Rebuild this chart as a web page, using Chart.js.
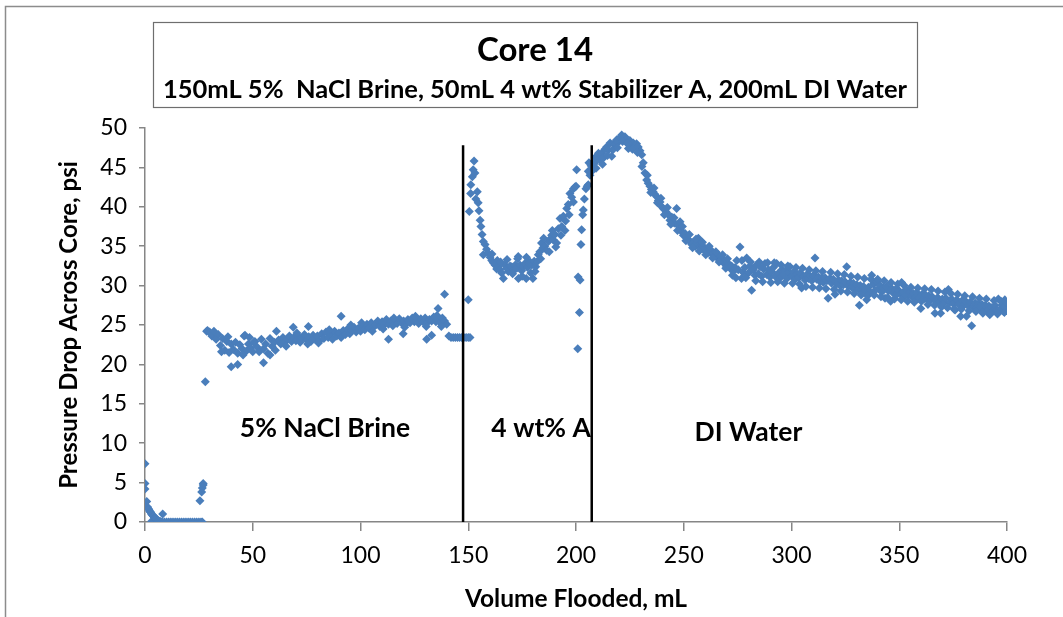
<!DOCTYPE html>
<html>
<head>
<meta charset="utf-8">
<script src="https://cdn.jsdelivr.net/npm/chart.js@4.4.1/dist/chart.umd.min.js"></script>
<style>
  html, body { margin: 0; padding: 0; background: #ffffff; }
  #wrap { width: 1063px; height: 617px; position: relative; }
</style>
</head>
<body>
<div id="wrap"><canvas id="c" width="1063" height="617"></canvas></div>
<script>
// ---------------- DATA ----------------
const chartTitle = 'Core 14';
const chartSubtitle = '150mL 5%  NaCl Brine, 50mL 4 wt% Stabilizer A, 200mL DI Water';
const xAxisTitle = 'Volume Flooded, mL';
const yAxisTitle = 'Pressure Drop Across Core, psi';
const xTickValues = [0, 50, 100, 150, 200, 250, 300, 350, 400];
const yTickValues = [0, 5, 10, 15, 20, 25, 30, 35, 40, 45, 50];
const stageLabels = ['5% NaCl Brine', '4 wt% A', 'DI Water'];
const boundaryVolumes = [147.6, 207.3];
const boundaryTopDp = 47.8;

// start-up (volume mL, pressure drop psi)
const startupPoints = [
  [0,7.4],[0,4.9],[0,4.2],[0.8,2.6],[1.2,1.9],[1.5,1.7],[1.8,1.6],[2.1,1.4],[2.4,1.3],[2.7,1.2],
  [3.0,1.0],[3.1,0.1],[3.4,0.9],[3.7,0.8],[4.0,0.7],[4.4,0.6],[4.8,0.5],[5.2,0.4],[5.6,0.3],[6.0,0.2],
  [6.5,0.1],[7.0,0.1],[7.5,0.0],[8.2,1.0],[8.0,0.0],[9,0],[10,0],[11,0],[12,0],[13,0],[14,0],[15,0],
  [16,0],[17,0],[18,0],[19,0],[20,0],[21,0],[22,0],[23,0],[24,0],[25,0],[26,0],[26.6,0],
  [25.5,2.7],[26.3,3.8],[26.6,4.3],[27.0,4.7],[27.0,4.9],[28.0,17.8],[28.6,24.2]
];

// 5% NaCl brine
const brinePoints = [
  [29,24.3],[30,24.1],[31,23.6],[32,24.2],[33,23.2],[34,23.8],[35,22.4],[36,23.3],[37,21.8],[38,22.9],
  [39,21.5],[40,22.6],[41,21.9],[42,22.8],[43,21.4],[44,22.5],[45,22.0],[46,23.6],[47,21.7],[48,22.6],
  [49,22.1],[50,21.6],[51,22.9],[52,22.2],[53,21.6],[54,23.2],[55,22.0],[56,22.6],[57,21.4],[58,23.3],
  [59,22.3],[60,22.8],[61,24.2],[62,23.1],[63,22.6],[64,23.4],[65,22.8],[66,23.2],[67,23.6],[68,22.9],
  [69,23.4],[70,23.0],[71,23.6],[72,22.8],[73,23.3],[74,23.8],[75,23.1],[76,23.5],[77,22.9],[78,23.7],
  [79,23.2],[80,23.6],[81,23.0],[82,23.9],[83,23.3],[84,24.1],[85,23.4],[86,23.8],[87,23.2],[88,24.2],
  [89,23.6],[90,24.0],[91,23.4],[92,24.3],[93,23.8],[94,24.5],[95,23.9],[96,24.3],[97,24.7],[98,24.1],
  [99,24.6],[100,24.2],[101,24.9],[102,24.4],[103,25.1],[104,24.6],[105,25.3],[106,24.7],[107,25.0],[108,25.5],
  [109,24.8],[110,25.4],[111,25.0],[112,25.7],[113,25.1],[114,25.5],[115,24.9],[116,25.6],[117,25.2],[118,25.8],
  [119,25.3],[120,25.5],[121,25.1],[122,25.7],[123,25.3],[124,25.9],[125,25.4],[126,25.6],[127,25.2],[128,25.8],
  [129,25.4],[130,25.9],[131,25.3],[132,25.7],[133,25.5],[134,26.0],[135,25.4],[136,25.8],[137,25.3],[138,25.9],
  [139,25.5],[140,25.1],[141,23.6],[142,23.4],[143,23.4],[144,23.4],[145,23.4],[146,23.4],[147,23.4],[148,23.4],
  [149,23.4],[150,23.4],[150.8,23.4],
  [40,19.7],[43,20.0],[55,20.2],[58,21.2],[68.8,24.7],[75.8,24.8],[91,26.1],[113,23.2],[119.8,23.9],
  [130.7,23.2],[133,23.7],[136,27.1],[139,28.9],[137.5,24.8],[46.4,23.7],
  [35.5,21.6],[38.5,23.5],[45.5,21.2],[48.5,23.4],[50.5,22.8],[60.5,21.8],[65.5,22.3],[70.5,24.0],
  [75.5,22.6],[80.5,22.7],[85.5,24.4],[95.5,25.0],[100.5,25.3],[105.5,24.2],[110.5,24.5],[115.5,25.9],
  [120.5,24.7],[125.5,26.1],[130.5,24.8],[135.5,26.2]
];

// 4 wt% Stabilizer A
const stabilizerPoints = [
  [150.0,28.2],[150.5,39.4],[151.1,41.7],[151.2,42.8],[151.9,43.8],[152.3,44.7],[152.7,45.8],[153.1,44.3],
  [153.5,41.0],[154.2,41.9],[154.6,40.5],[155.0,39.5],[155.5,38.3],[155.9,37.5],[156.4,36.5],[157.0,35.6],
  [157.8,35.2],[157.0,33.9],[158.5,34.6],[159.3,34.1],[160.1,33.6],[160.9,33.2],[161.6,32.9],[162.4,32.6],
  [163.2,32.1],[164.0,32.4],[164.7,32.0],[165.5,31.6],[166.3,30.9],[167.0,32.6],[167.8,32.2],[168.6,31.8],
  [169.4,32.5],[170.2,32.4],[171.0,31.9],[171.8,32.6],[172.5,32.2],[173.2,33.7],[173.3,30.9],[174.0,32.6],
  [174.8,31.9],[175.5,32.4],[176.3,32.8],[176.9,30.9],[177.5,32.3],[178.2,32.9],[178.7,33.0],[179.5,32.6],
  [180.0,30.9],[180.6,33.1],[181.3,32.4],[181.8,33.0],[182.5,33.9],[183.2,34.3],[184.0,35.4],[184.7,34.8],
  [185.5,35.0],[186.4,34.5],[187.2,35.6],[188.0,35.9],[188.7,36.4],[189.5,35.8],[190.2,36.5],[191.0,35.4],
  [191.8,37.2],[192.6,38.5],[193.4,37.5],[194.1,38.8],[194.9,37.0],[195.7,39.8],[196.4,40.3],[197.2,41.7],
  [198.0,41.2],[198.8,42.3],[198.8,40.6],[199.5,42.5],[200.0,42.6],[200.3,44.7],[200.8,22.0],[201.0,31.1],
  [201.6,26.6],[201.9,30.7],[202.3,35.2],[202.6,37.1],[203.1,39.0],[203.4,39.6],[203.9,41.0],[204.6,42.3],
  [205.2,42.6],[205.7,42.8],[205.7,44.5],[206.0,45.6],[206.5,44.0],[207.0,45.2],[207.4,44.8],[208.0,44.7],
  [161.0,34.0],[163.5,33.2],[165.0,33.0],[168.0,33.3],[170.6,31.5],[172.9,33.4],[175.0,31.2],[177.0,33.6],
  [179.0,31.6],[181.0,31.8],[183.6,33.4],[185.0,36.0],[187.6,34.3],[189.0,37.0],[190.6,34.9],[193.0,36.4],
  [195.2,38.2],[196.8,39.0]
];

// DI water
const waterPoints = [
  [208.5,45.5],[209.0,46.3],[209.6,45.9],[210.4,46.8],[211.0,46.0],[211.9,46.8],[212.7,46.2],[213.4,47.3],
  [214.2,47.6],[215.0,47.2],[215.8,48.1],[216.6,46.4],[217.3,48.0],[218.1,47.8],[218.9,48.5],[219.6,48.2],
  [220.4,48.8],[221.2,49.1],[222.0,48.7],[222.7,48.9],[223.5,48.5],[224.3,47.4],[225.0,48.4],[225.8,47.9],
  [226.6,48.1],[227.4,47.7],[228.1,48.0],[228.9,47.6],[229.7,47.1],[230.5,46.6],[230.6,45.1],[231.2,45.6],
  [232.0,44.3],[232.8,43.4],[233.5,43.0],[234.3,42.6],[235.0,42.2],[235.8,41.9],[236.6,41.6],[237.4,41.3],
  [238.2,40.8],[239.0,40.6],[239.8,40.0],[240.5,39.8],[241.3,39.6],[242.0,39.3],[242.8,39.0],[243.6,38.3],
  [244.4,38.7],[245.1,38.0],[245.9,37.9],[246.7,39.8],[247.5,37.6],[248.3,38.1],[248.3,37.1],[249.0,36.9],
  [249.8,36.4],[250.6,36.6],[251.4,36.2],[252.2,35.8],[253.0,35.6],[253.7,35.2],[254.5,35.5],[255.3,35.0],
  [256.0,35.4],[256.8,36.0],[257.5,34.9],[258.3,34.7],[259.0,35.0],[259.8,34.4],[260.6,34.5],[261.4,34.2],
  [262.2,34.6],[263.0,34.0],[263.7,34.1],[264.5,33.8],[265.3,33.6],[266.0,33.9],[266.8,33.2],[267.6,33.5],
  [268.4,33.0],[269.1,32.7],[269.9,32.4],[270.7,32.8],[271.5,32.2],[272.2,32.5],[273.0,31.8],[273.8,32.3],
  [274.6,33.2],[275.3,32.0],[276.1,34.9],[276.8,30.9],[277.5,31.7],[278.3,32.3],[279.2,33.5],[280.0,31.6],
  [280.7,32.5],[281.5,29.4],[282.3,32.0],[283.0,31.3],[283.8,32.6],[284.6,31.5],[285.4,32.4],[286.2,31.2],
  [287.0,32.1],[287.7,32.8],[288.5,31.4],[289.3,32.0],[290.0,31.1],[290.8,31.8],[291.6,32.3],[292.4,31.2],
  [293.1,32.8],[294.0,31.6],[294.8,31.0],[295.6,32.0],[296.3,31.4],[297.1,31.9],[297.9,30.9],[298.7,31.7],
  [299.3,32.4],[300.1,31.2],[300.9,31.7],[301.7,30.8],[302.5,31.5],[303.3,31.0],[304.0,31.6],[304.7,29.7],
  [305.5,31.2],[306.3,30.7],[307.1,31.4],[307.9,30.9],[308.6,31.2],[309.4,30.6],[310.2,31.3],[310.9,33.5],
  [311.7,30.8],[312.5,31.1],[313.3,30.5],[314.0,31.0],[314.8,30.4],[315.6,31.0],[316.4,30.6],[317.0,28.4],
  [317.8,30.9],[318.6,30.3],[319.4,30.8],[320.2,28.9],[321.0,30.2],[321.8,30.7],[322.5,30.0],[323.3,30.6],
  [324.1,30.1],[324.9,30.5],[325.6,32.4],[326.4,29.9],[327.2,30.4],[328.0,29.8],[328.7,30.3],[329.5,29.6],
  [330.3,30.1],[331.1,29.5],[331.5,27.5],[331.9,30.0],[332.7,29.4],[333.4,29.9],[334.2,29.3],[334.9,28.2],
  [335.7,29.8],[336.5,29.2],[337.2,31.3],[338.0,30.2],[338.8,29.4],[339.6,30.5],[340.3,29.6],[341.1,30.0],
  [341.9,29.2],[342.6,29.7],[343.4,28.4],[344.2,29.9],[345.0,29.3],[346.0,28.0],[346.6,29.6],[347.4,29.0],
  [348.2,29.5],[349.0,28.9],[349.7,29.4],[350.5,29.0],[351.1,30.4],[351.9,29.2],[352.7,28.7],[353.5,29.3],
  [354.3,28.8],[355.0,29.2],[355.8,28.6],[356.6,29.0],[357.4,28.5],[358.2,29.1],[359.0,28.4],[360.0,27.1],
  [360.6,28.9],[361.4,28.3],[362.2,28.8],[363.0,28.2],[363.7,28.7],[364.5,28.1],[365.3,28.6],[366.6,26.5],
  [367.0,28.0],[367.8,28.5],[368.6,27.9],[369.2,26.5],[370.0,28.3],[370.8,27.8],[371.6,28.4],[372.8,29.5],
  [373.5,27.9],[374.3,28.3],[375.1,27.7],[375.9,26.9],[376.7,28.2],[377.5,27.6],[378.5,26.1],[379.2,28.1],
  [380.0,27.5],[380.8,28.0],[381.2,26.1],[382.0,27.4],[382.8,27.9],[383.6,24.9],[384.4,27.3],[385.2,27.8],
  [386.0,27.2],[386.8,27.7],[387.6,27.0],[388.4,27.6],[389.2,26.9],[390.0,27.5],[390.8,26.8],[391.6,27.4],
  [392.0,26.3],[392.8,27.2],[393.6,26.8],[394.4,27.5],[395.2,26.9],[396.0,28.3],[396.8,27.0],[397.6,27.5],
  [398.4,26.7],[399.0,28.2],[399.2,27.3]
];

// DI water, further scattered readings on both edges of the band
const waterSpreadPoints = [
  [209.3,44.9],[212.3,45.4],[214.6,46.5],[217.0,47.2],[219.2,47.5],[221.6,48.3],[223.9,48.0],[226.2,47.3],
  [228.5,46.9],[233.1,44.0],[234.7,41.8],[236.2,42.4],[237.8,40.5],[239.4,41.1],[241.0,39.0],[242.4,39.9],
  [244.0,37.8],[245.5,38.6],[247.1,37.0],[249.4,37.5],[251.0,35.7],[252.6,36.5],[254.1,34.8],[255.7,35.9],
  [257.2,34.4],[258.7,35.5],[260.2,33.9],[261.8,35.0],[263.4,33.5],[264.9,34.3],[266.4,33.0],[268.0,33.9],
  [269.5,32.2],[270.3,33.4],[272.6,31.3],[274.2,31.0],[277.0,33.2],[278.8,31.0],[281.0,33.0],[283.4,30.6],
  [285.0,33.0],[286.6,30.5],[288.9,32.9],[290.4,30.4],[292.0,32.9],[293.6,30.5],[295.2,32.6],[296.7,30.3],
  [298.3,32.5],[300.5,30.3],[302.1,32.3],[303.7,30.2],[305.1,32.2],[306.7,29.9],[308.2,32.0],[309.8,29.8],
  [311.3,31.9],[312.9,29.7],[314.4,31.8],[316.0,29.6],[318.2,31.7],[319.8,29.5],[321.4,31.5],[322.9,29.3],
  [324.5,31.4],[326.0,29.2],[327.6,31.2],[329.1,29.0],[330.7,31.1],[332.3,28.8],[333.8,30.9],[335.3,28.7],
  [336.9,30.8],[338.4,28.8],[340.0,30.8],[341.5,28.6],[343.0,30.6],[344.6,28.5],[346.2,30.4],[347.8,28.3],
  [349.3,30.2],[350.9,28.2],[352.3,30.0],[353.9,28.0],[355.4,29.8],[357.0,27.9],[358.6,29.7],[360.3,28.0],
  [361.8,29.6],[363.3,27.6],[364.9,29.5],[366.4,27.5],[368.0,29.3],[369.6,27.3],[371.2,29.2],[372.4,27.2],
  [374.0,29.0],[375.5,27.0],[377.1,28.9],[378.8,27.0],[380.4,28.7],[382.4,26.8],[384.0,28.6],[385.6,26.7],
  [387.2,28.4],[388.8,26.5],[390.4,28.3],[392.4,26.5],[394.0,28.1],[395.6,26.4],[397.2,28.0],[398.8,26.6],
  [399.5,27.9]
];

// ---------------- CHART ----------------
const FONT = 'Lato, "Open Sans", "DejaVu Sans", sans-serif';
const AXIS_GRAY = '#868686';
const MARKER = '#4A7EBB';

const toXY = arr => arr.map(p => ({x: p[0], y: p[1]}));
const allPoints = [].concat(toXY(startupPoints), toXY(brinePoints), toXY(stabilizerPoints),
                            toXY(waterPoints), toXY(waterSpreadPoints));

const boundaryDatasets = boundaryVolumes.map(v => ({
  type: 'line',
  data: [{x: v, y: 0}, {x: v, y: boundaryTopDp}],
  borderColor: '#000000',
  borderWidth: 2.5,
  pointRadius: 0,
  showLine: true,
  fill: false,
  order: 0
}));

const decorPlugin = {
  id: 'decor',
  beforeDraw(chart) {
    const ctx = chart.ctx;
    ctx.save();
    ctx.fillStyle = '#ffffff';
    ctx.fillRect(0, 0, chart.width, chart.height);
    ctx.strokeStyle = '#8c8c8c';
    ctx.lineWidth = 1.5;
    ctx.beginPath();
    ctx.moveTo(5.5, chart.height);
    ctx.lineTo(5.5, 6.5);
    ctx.lineTo(chart.width, 6.5);
    ctx.stroke();
    ctx.restore();
  },
  afterDraw(chart) {
    const ctx = chart.ctx;
    const xs = chart.scales.x, ys = chart.scales.y;
    ctx.save();
    ctx.strokeStyle = '#6e6e6e';
    ctx.lineWidth = 1.2;
    ctx.strokeRect(153.5, 22.5, 764, 85);
    ctx.fillStyle = '#000000';
    ctx.textAlign = 'center';
    ctx.textBaseline = 'middle';
    ctx.font = 'bold 33px ' + FONT;
    ctx.fillText(chartTitle, 535, 50);
    ctx.font = 'bold 25.5px ' + FONT;
    ctx.fillText(chartSubtitle, 535, 90);
    ctx.font = 'bold 26.5px ' + FONT;
    const pos = [[83.5, 11.9], [183.8, 11.9], [280, 11.4]];
    stageLabels.forEach((t, i) => {
      ctx.fillText(t, xs.getPixelForValue(pos[i][0]), ys.getPixelForValue(pos[i][1]));
    });
    ctx.restore();
  }
};

new Chart(document.getElementById('c'), {
  type: 'scatter',
  data: {
    datasets: [{
      data: allPoints,
      pointStyle: 'rectRot',
      pointRadius: 4.5,
      pointHoverRadius: 4.5,
      backgroundColor: MARKER,
      borderColor: MARKER,
      borderWidth: 0,
      order: 1
    }].concat(boundaryDatasets)
  },
  options: {
    responsive: false,
    animation: false,
    events: [],
    layout: { padding: { left: 50, right: 56, top: 128, bottom: 0 } },
    plugins: { legend: { display: false }, tooltip: { enabled: false }, title: { display: false } },
    scales: {
      x: {
        type: 'linear', min: 0, max: 400,
        afterBuildTicks: s => { s.ticks = xTickValues.map(v => ({value: v})); },
        afterFit: s => { s.height = 95; },
        grid: { display: true, drawOnChartArea: false, drawTicks: true, tickLength: 9, color: AXIS_GRAY, lineWidth: 1.5 },
        border: { display: true, color: AXIS_GRAY, width: 1.5 },
        ticks: { color: '#000000', font: { family: FONT, size: 23 }, padding: 11, maxRotation: 0 },
        title: { display: true, text: xAxisTitle, color: '#000000', font: { family: FONT, size: 24.5, weight: 'bold' }, padding: { top: 0, bottom: 3 } }
      },
      y: {
        type: 'linear', min: 0, max: 50,
        afterBuildTicks: s => { s.ticks = yTickValues.map(v => ({value: v})); },
        afterFit: s => { s.width = 95; },
        grid: { display: true, drawOnChartArea: false, drawTicks: true, tickLength: 6, color: AXIS_GRAY, lineWidth: 1.5 },
        border: { display: true, color: AXIS_GRAY, width: 1.5 },
        ticks: { color: '#000000', font: { family: FONT, size: 23 }, padding: 12 },
        title: { display: true, text: yAxisTitle, color: '#000000', font: { family: FONT, size: 24, weight: 'bold' }, padding: { top: 5, bottom: 0 } }
      }
    }
  },
  plugins: [decorPlugin]
});
</script>
</body>
</html>
